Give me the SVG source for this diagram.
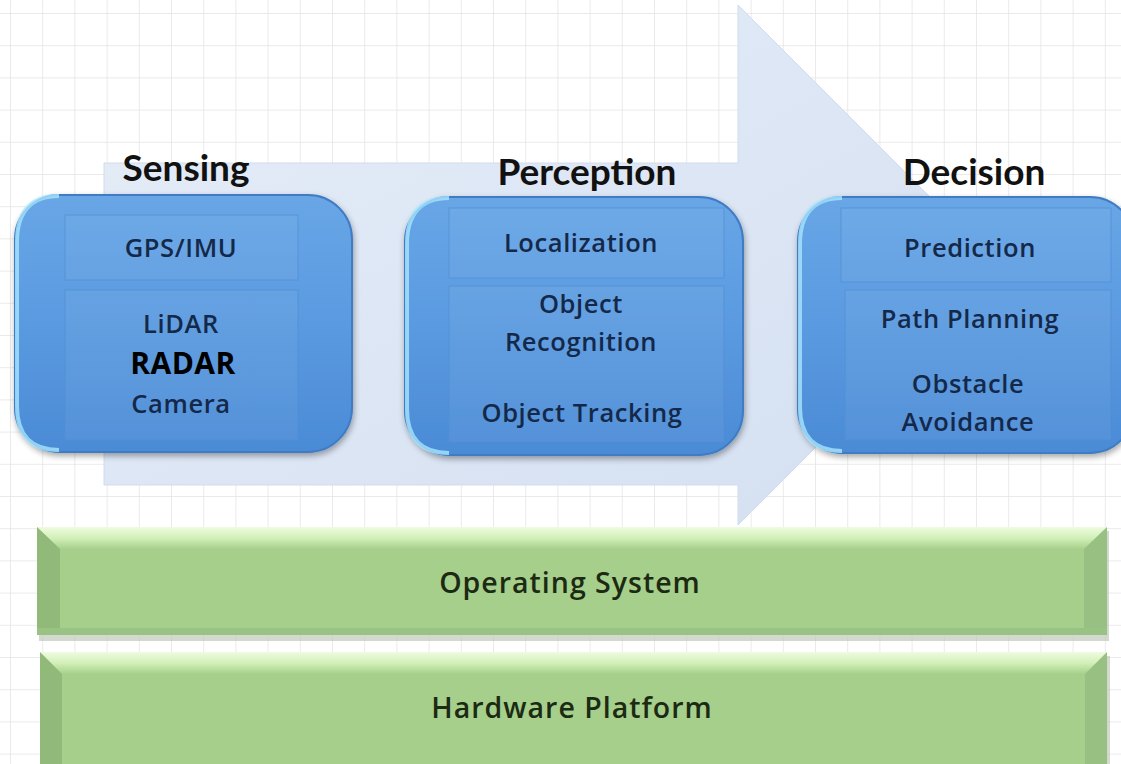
<svg xmlns="http://www.w3.org/2000/svg" width="1121" height="764" viewBox="0 0 1121 764">
<defs>
<pattern id="grid" x="10" y="13" width="32.2" height="32.2" patternUnits="userSpaceOnUse">
<path d="M0 0 H32.2 M0 0 V32.2" fill="none" stroke="#e4e4e4" stroke-width="1.5"/>
</pattern>
<linearGradient id="arrowG" x1="0" y1="0" x2="1" y2="1">
<stop offset="0" stop-color="#e6edf8"/>
<stop offset="1" stop-color="#d3dff1"/>
</linearGradient>
<linearGradient id="boxG" x1="0" y1="0" x2="0" y2="1">
<stop offset="0" stop-color="#68a6e6"/>
<stop offset="0.5" stop-color="#5a9ae0"/>
<stop offset="1" stop-color="#4b8bd6"/>
</linearGradient>
<linearGradient id="greenTop" x1="0" y1="0" x2="0" y2="1">
<stop offset="0" stop-color="#eefbe0"/>
<stop offset="0.5" stop-color="#d2f0b8"/>
<stop offset="1" stop-color="#a7d08c"/>
</linearGradient>
<filter id="sh" x="-10%" y="-10%" width="120%" height="130%">
<feGaussianBlur in="SourceAlpha" stdDeviation="3"/>
<feOffset dx="1" dy="3"/>
<feComponentTransfer><feFuncA type="linear" slope="0.35"/></feComponentTransfer>
<feMerge><feMergeNode/><feMergeNode in="SourceGraphic"/></feMerge>
</filter>
</defs>
<style>
.hdr{font-family:Lato,"Liberation Sans",sans-serif;font-weight:700;font-size:37px;fill:#111;text-anchor:middle}
.itm{font-family:"Open Sans","Liberation Sans",sans-serif;font-weight:600;font-size:25.5px;letter-spacing:0.6px;fill:#14294a;text-anchor:middle}
.rad{font-family:"Open Sans","Liberation Sans",sans-serif;font-weight:700;font-size:30px;letter-spacing:0.5px;fill:#000;text-anchor:middle}
.lay{font-family:"Open Sans","Liberation Sans",sans-serif;font-weight:600;font-size:28.5px;letter-spacing:1px;fill:#1c2a14;text-anchor:middle}
.box{fill:url(#boxG);stroke:#3f7cc4;stroke-width:2}
.pane{fill:#ffffff;fill-opacity:0.05;stroke:#4f8fd6;stroke-width:1.2;stroke-opacity:0.6}
.green{fill:#a6cf8b}
</style>
<rect width="1121" height="764" fill="#ffffff"/>
<rect width="1121" height="764" fill="url(#grid)"/>

<g id="flow-arrow">
<polygon points="104,163 738,163 738,5 998,265 738,525 738,485 104,485" fill="url(#arrowG)" stroke="#d3dcec" stroke-width="1"/>
</g>

<g id="sensing">
<text class="hdr" x="186" y="181">Sensing</text>
<rect class="box" x="15" y="195" width="337" height="257" rx="44" filter="url(#sh)"/>
<path d="M59 196 Q17 196 17 242 V406 Q17 450 59 450" fill="none" stroke="#a8e6ff" stroke-width="4" opacity="0.8"/>
<rect class="pane" x="65" y="215" width="233" height="65"/>
<rect class="pane" x="65" y="290" width="233" height="150" stroke-opacity="0.3"/>
<text class="itm" x="181" y="257">GPS/IMU</text>
<text class="itm" x="181" y="333">LiDAR</text>
<text class="rad" x="183" y="374">RADAR</text>
<text class="itm" x="181" y="413">Camera</text>
</g>

<g id="perception">
<text class="hdr" x="587" y="185">Perception</text>
<rect class="box" x="405" y="197" width="338" height="258" rx="44" filter="url(#sh)"/>
<path d="M449 198 Q407 198 407 244 V409 Q407 453 449 453" fill="none" stroke="#a8e6ff" stroke-width="4" opacity="0.8"/>
<rect class="pane" x="449" y="208" width="275" height="70"/>
<rect class="pane" x="449" y="286" width="275" height="156" stroke-opacity="0.3"/>
<text class="itm" x="581" y="252">Localization</text>
<text class="itm" x="581" y="313">Object</text>
<text class="itm" x="581" y="351">Recognition</text>
<text class="itm" x="582" y="422">Object Tracking</text>
</g>

<g id="decision">
<text class="hdr" x="974" y="185">Decision</text>
<rect class="box" x="798" y="197" width="336" height="256" rx="44" filter="url(#sh)"/>
<path d="M842 198 Q800 198 800 244 V407 Q800 451 842 451" fill="none" stroke="#a8e6ff" stroke-width="4" opacity="0.8"/>
<rect class="pane" x="841" y="208" width="270" height="74"/>
<rect class="pane" x="845" y="290" width="266" height="150" stroke-opacity="0.3"/>
<text class="itm" x="970" y="257">Prediction</text>
<text class="itm" x="970" y="328">Path Planning</text>
<text class="itm" x="968" y="393">Obstacle</text>
<text class="itm" x="968" y="431">Avoidance</text>
</g>

<g id="operating-system">
<rect x="39" y="531" width="1070" height="110" fill="#c2c9bb" opacity="0.7"/>
<rect class="green" x="37" y="527" width="1070" height="108"/>
<rect x="37" y="527" width="1070" height="22" fill="url(#greenTop)"/>
<polygon points="37,527 60,549 60,628 37,635" fill="#90b97a"/>
<polygon points="1107,527 1084,549 1084,628 1107,635" fill="#98c082"/>
<rect x="37" y="628" width="1070" height="7" fill="#9ac284"/>
<text class="lay" x="570" y="593">Operating System</text>
</g>

<g id="hardware-platform">
<rect x="42" y="656" width="1068" height="110" fill="#c2c9bb" opacity="0.7"/>
<rect class="green" x="40" y="652" width="1067" height="112"/>
<rect x="40" y="652" width="1067" height="22" fill="url(#greenTop)"/>
<polygon points="40,652 62,674 62,764 40,764" fill="#90b97a"/>
<polygon points="1107,652 1085,674 1085,764 1107,764" fill="#98c082"/>
<text class="lay" x="572" y="718">Hardware Platform</text>
</g>
</svg>
